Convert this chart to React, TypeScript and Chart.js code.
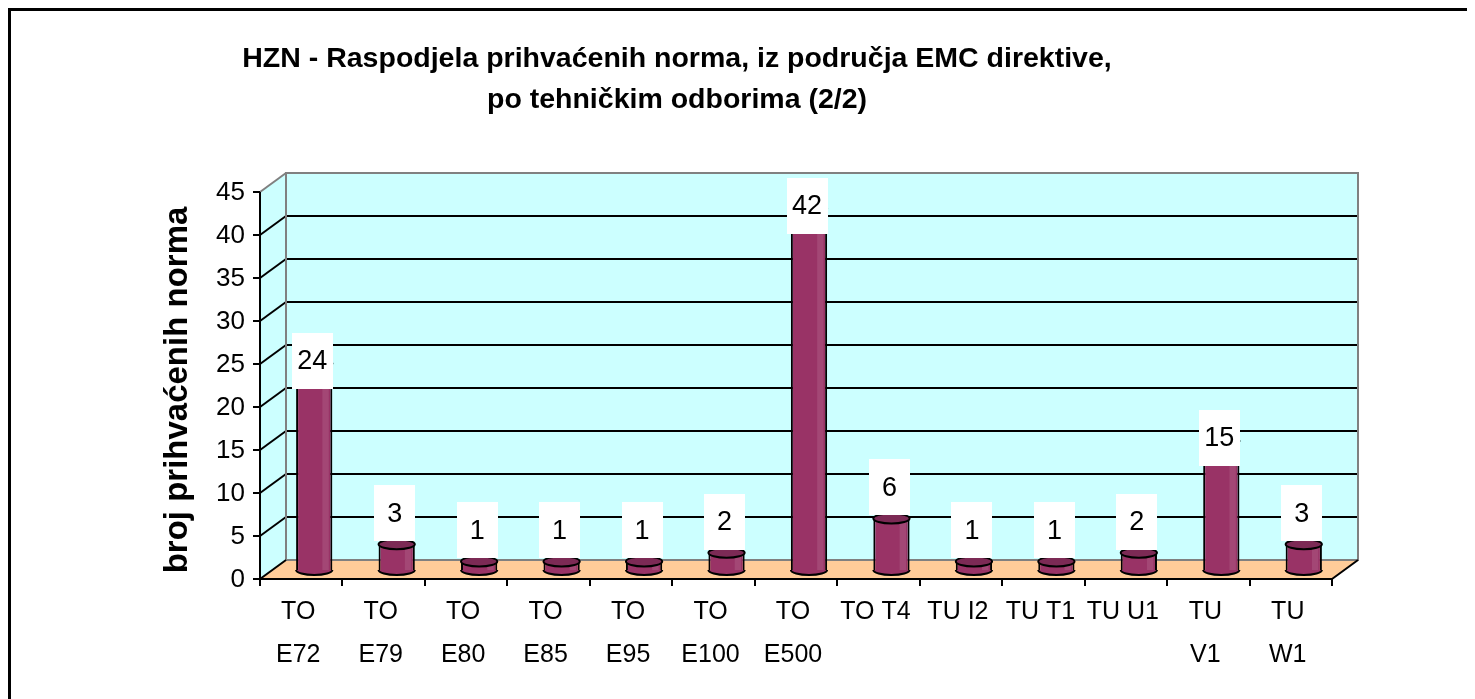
import React, { useEffect, useRef } from "react";
import { Chart, registerables } from "chart.js";

Chart.register(...registerables);

const categories: (string | string[])[] = [
  ["TO", "E72"], ["TO", "E79"], ["TO", "E80"], ["TO", "E85"], ["TO", "E95"],
  ["TO", "E100"], ["TO", "E500"], "TO T4", "TU I2", "TU T1", "TU U1",
  ["TU", "V1"], ["TU", "W1"],
];
const values = [24, 3, 1, 1, 1, 2, 42, 6, 1, 1, 2, 15, 3];
const yTicks = [0, 5, 10, 15, 20, 25, 30, 35, 40, 45];
const titleLines = [
  "HZN - Raspodjela prihvaćenih norma, iz područja EMC direktive,",
  "po tehničkim odborima (2/2)",
];
const yTitle = "broj prihvaćenih norma";

const FONT = "'Liberation Sans', Arial, sans-serif";
const DX = -26; // front plane offset
const DY = 19;
const MX = -13; // bar plane offset
const MY = 10;
const RY = 5;
const BAR = "#993366";

const plugin3d = {
  id: "excel3d",
  beforeDatasetsDraw(chart: any) {
    const { ctx, chartArea: a, scales } = chart;
    const y = scales.y;
    const x = scales.x;
    ctx.save();
    // back wall
    ctx.fillStyle = "#CCFFFF";
    ctx.fillRect(a.left, a.top, a.right - a.left, a.bottom - a.top);
    // left wall
    ctx.beginPath();
    ctx.moveTo(a.left + DX, a.top + DY);
    ctx.lineTo(a.left, a.top);
    ctx.lineTo(a.left, a.bottom);
    ctx.lineTo(a.left + DX, a.bottom + DY);
    ctx.closePath();
    ctx.fill();
    // floor
    ctx.fillStyle = "#FFCC99";
    ctx.beginPath();
    ctx.moveTo(a.left + DX, a.bottom + DY);
    ctx.lineTo(a.left, a.bottom);
    ctx.lineTo(a.right, a.bottom);
    ctx.lineTo(a.right + DX, a.bottom + DY);
    ctx.closePath();
    ctx.fill();
    // gridlines
    ctx.strokeStyle = "#000";
    ctx.lineWidth = 2;
    for (const v of yTicks) {
      if (v === yTicks[0] || v === yTicks[yTicks.length - 1]) continue;
      const py = Math.round(y.getPixelForValue(v));
      ctx.beginPath();
      ctx.moveTo(a.left, py);
      ctx.lineTo(a.right, py);
      ctx.stroke();
      ctx.beginPath();
      ctx.moveTo(a.left + DX, py + DY);
      ctx.lineTo(a.left, py);
      ctx.stroke();
    }
    // wall borders
    ctx.strokeStyle = "#808080";
    ctx.lineWidth = 2;
    ctx.strokeRect(a.left, a.top, a.right - a.left, a.bottom - a.top);
    ctx.beginPath();
    ctx.moveTo(a.left + DX, a.top + DY);
    ctx.lineTo(a.left, a.top);
    ctx.stroke();
    // floor edges
    ctx.strokeStyle = "#000";
    ctx.beginPath();
    ctx.moveTo(a.left + DX, a.bottom + DY);
    ctx.lineTo(a.left, a.bottom);
    ctx.moveTo(a.right, a.bottom);
    ctx.lineTo(a.right + DX, a.bottom + DY);
    ctx.stroke();
    // front axes
    ctx.beginPath();
    ctx.moveTo(a.left + DX, a.top + DY);
    ctx.lineTo(a.left + DX, a.bottom + DY);
    ctx.lineTo(a.right + DX, a.bottom + DY);
    ctx.stroke();
    // y ticks
    for (const v of yTicks) {
      const py = Math.round(y.getPixelForValue(v)) + DY;
      ctx.beginPath();
      ctx.moveTo(a.left + DX - 7, py);
      ctx.lineTo(a.left + DX, py);
      ctx.stroke();
    }
    // x ticks at category boundaries
    const n = categories.length;
    const step = x.getPixelForValue(1) - x.getPixelForValue(0);
    for (let i = 0; i <= n; i++) {
      const px = i < n ? x.getPixelForValue(i) - step / 2 : x.getPixelForValue(n - 1) + step / 2;
      ctx.beginPath();
      ctx.moveTo(Math.round(px) + DX, a.bottom + DY);
      ctx.lineTo(Math.round(px) + DX, a.bottom + DY + 7);
      ctx.stroke();
    }
    ctx.restore();
    ctx.save();
    ctx.translate(MX, MY);
  },
  afterDatasetsDraw(chart: any) {
    const { ctx, chartArea: a, scales } = chart;
    const y = scales.y;
    const x = scales.x;
    const meta = chart.getDatasetMeta(0);
    ctx.lineWidth = 2;
    ctx.strokeStyle = "#000";
    meta.data.forEach((bar: any) => {
      const p = bar.getProps(["x", "y", "base", "width"], true);
      const rx = p.width / 2;
      // highlight stripe
      ctx.fillStyle = "rgba(255,255,255,0.10)";
      ctx.fillRect(p.x + rx * 0.45, p.y, rx * 0.35, p.base - p.y);
      // bottom curve
      ctx.beginPath();
      ctx.ellipse(p.x, p.base, rx, RY, 0, 0, Math.PI);
      ctx.fillStyle = BAR;
      ctx.fill();
      ctx.stroke();
      // top cap
      ctx.beginPath();
      ctx.ellipse(p.x, p.y, rx, RY, 0, 0, Math.PI * 2);
      ctx.fillStyle = "#7c2a55";
      ctx.fill();
      ctx.stroke();
    });
    ctx.restore();

    // data labels
    ctx.save();
    meta.data.forEach((bar: any, i: number) => {
      const v = values[i];
      const p = bar.getProps(["x"], true);
      const py = y.getPixelForValue(v);
      const cy = v > 10 ? py + 7 : py - 21;
      const cx = p.x + MX - 2;
      ctx.fillStyle = "#fff";
      ctx.fillRect(Math.round(cx - 20.5), Math.round(cy - 28), 41, 56);
      ctx.fillStyle = "#000";
      ctx.font = `27px ${FONT}`;
      ctx.textAlign = "center";
      ctx.textBaseline = "middle";
      ctx.fillText(String(v), cx, cy + 1);
    });

    // y tick labels
    ctx.font = `26px ${FONT}`;
    ctx.textAlign = "right";
    ctx.textBaseline = "middle";
    ctx.fillStyle = "#000";
    for (const v of yTicks) {
      ctx.fillText(String(v), a.left + DX - 15, y.getPixelForValue(v) + DY + 1);
    }
    // x labels
    ctx.font = `25px ${FONT}`;
    ctx.textAlign = "center";
    ctx.textBaseline = "middle";
    categories.forEach((c, i) => {
      const lines = Array.isArray(c) ? c : [c];
      const px = x.getPixelForValue(i) + DX - 3;
      lines.forEach((ln, j) => {
        ctx.fillText(ln, px, a.bottom + DY + 33 + j * 43);
      });
    });
    // title
    ctx.font = `bold 28.5px ${FONT}`;
    ctx.textBaseline = "alphabetic";
    ctx.textAlign = "center";
    ctx.fillText(titleLines[0], 666, 56);
    ctx.fillText(titleLines[1], 666, 97);
    // y title
    ctx.save();
    ctx.translate(176, 379);
    ctx.rotate(-Math.PI / 2);
    ctx.font = `bold 33px ${FONT}`;
    ctx.textAlign = "center";
    ctx.textBaseline = "alphabetic";
    ctx.fillText(yTitle, 0, 0);
    ctx.restore();
    ctx.restore();
  },
};

export default function App() {
  const ref = useRef<HTMLCanvasElement>(null);
  useEffect(() => {
    if (!ref.current) return;
    const chart = new Chart(ref.current, {
      type: "bar",
      data: {
        labels: categories,
        datasets: [
          {
            data: values,
            backgroundColor: BAR,
            borderColor: "#000",
            borderWidth: 2,
            borderSkipped: "bottom",
            barPercentage: 0.44,
            categoryPercentage: 1,
            clip: false,
          } as any,
        ],
      },
      options: {
        animation: false,
        responsive: false,
        maintainAspectRatio: false,
        devicePixelRatio: 1,
        layout: { padding: { left: 275, right: 117, top: 162, bottom: 139 } },
        scales: {
          x: { display: false },
          y: { display: false, min: 0, max: 45 },
        },
        plugins: {
          legend: { display: false },
          tooltip: { enabled: false },
          title: { display: false },
        },
      },
      plugins: [plugin3d],
    });
    return () => chart.destroy();
  }, []);
  return (
    <div
      style={{
        width: 1467,
        height: 691,
        boxSizing: "border-box",
        borderTop: "3px solid #000",
        borderLeft: "3px solid #000",
        background: "#fff",
        overflow: "hidden",
      }}
    >
      <canvas ref={ref} width={1464} height={688} style={{ display: "block" }} />
    </div>
  );
}
